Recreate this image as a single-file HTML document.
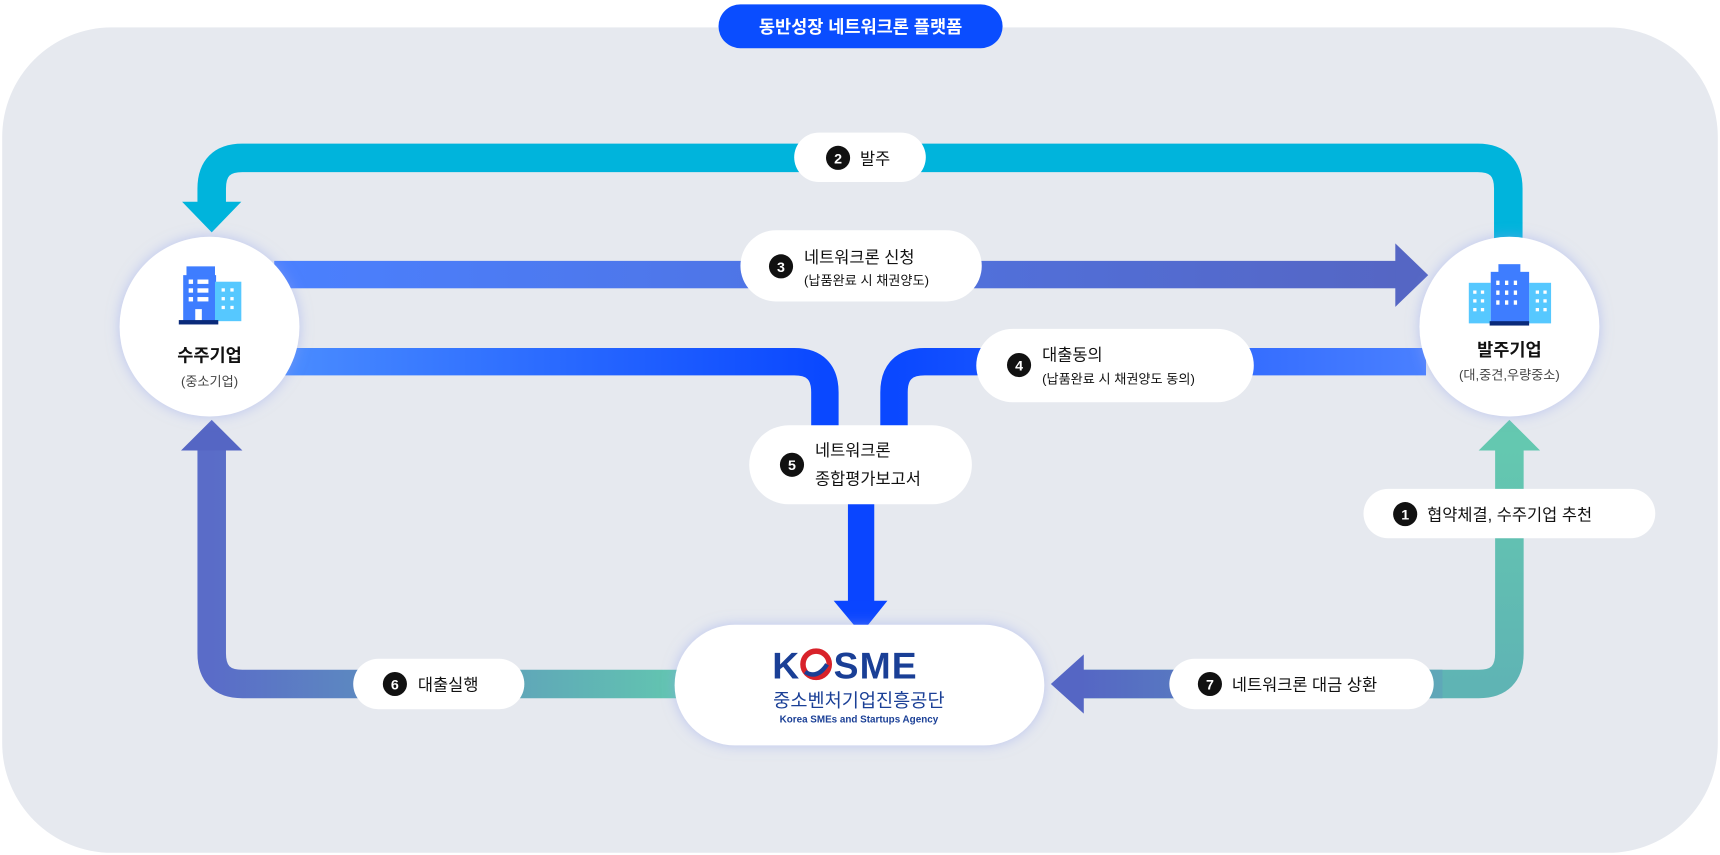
<!DOCTYPE html>
<html><head><meta charset="utf-8"><style>
html,body{margin:0;padding:0;background:#fff;}
svg{display:block;}
text{font-family:"Liberation Sans","Noto Sans CJK KR",sans-serif;}
</style></head><body>
<svg width="1720" height="855" viewBox="0 0 1568 780" preserveAspectRatio="none" xmlns="http://www.w3.org/2000/svg">
<defs>
<linearGradient id="g3" x1="0" x2="1"><stop offset="0" stop-color="#4a80ff"/><stop offset="1" stop-color="#5566c4"/></linearGradient>
<linearGradient id="g4l" x1="0" x2="1"><stop offset="0" stop-color="#4a8cff"/><stop offset="1" stop-color="#0a48ff"/></linearGradient>
<linearGradient id="g4r" x1="0" x2="1"><stop offset="0" stop-color="#0a48ff"/><stop offset="1" stop-color="#4a80ff"/></linearGradient>
<linearGradient id="g6" x1="0" x2="1"><stop offset="0" stop-color="#5a6cc8"/><stop offset="1" stop-color="#62c6b0"/></linearGradient>
<linearGradient id="g1" x1="0" x2="0" y1="0" y2="1"><stop offset="0" stop-color="#64c8b0"/><stop offset="1" stop-color="#5fb4b4"/></linearGradient>
<linearGradient id="g7" x1="0" x2="1"><stop offset="0" stop-color="#5566c4"/><stop offset="1" stop-color="#5fa8b8"/></linearGradient>
<filter id="sh" x="-20%" y="-30%" width="140%" height="160%"><feDropShadow dx="0" dy="0" stdDeviation="6" flood-color="#8fa0ee" flood-opacity="0.5"/></filter>
</defs>
<rect x="2" y="25" width="1564" height="753" rx="100" fill="#e6e9ef"/>
<rect x="655" y="4" width="259" height="40" rx="20" fill="#0a4dff"/>
<text x="784.5" y="30" font-size="16" font-weight="bold" fill="#fff" text-anchor="middle">동반성장 네트워크론 플랫폼</text>

<path d="M1375 218 V172 Q1375 144 1347 144 H221 Q193 144 193 172 V188" fill="none" stroke="#00b4dc" stroke-width="26"/>
<polygon points="166,184 220,184 193,212" fill="#00b4dc"/>
<rect x="250" y="238" width="1025" height="25" fill="url(#g3)"/>
<polygon points="1272,222 1272,280 1302,251" fill="#5566c4"/>
<path d="M260 330 H724 Q752 330 752 358 V390" fill="none" stroke="url(#g4l)" stroke-width="25"/>
<path d="M1300 330 H843 Q815 330 815 358 V390" fill="none" stroke="url(#g4r)" stroke-width="25"/>
<rect x="773" y="455" width="24" height="98" fill="#0a45ff"/>
<polygon points="760,548 809,548 785,578" fill="#0a45ff"/>
<path d="M620 624 H221 Q193 624 193 596 V405" fill="none" stroke="url(#g6)" stroke-width="26"/>
<polygon points="165,411 221,411 193,383" fill="#5566c4"/>
<path d="M1376 408 V596 Q1376 624 1348 624 H985" fill="none" stroke="url(#g1)" stroke-width="26"/>
<rect x="985" y="611" width="330" height="26" fill="url(#g7)"/>
<polygon points="1348,411 1404,411 1376,383" fill="#64c8b0"/>
<polygon points="988,597 988,651 958,624" fill="#5566c4"/>

<circle cx="191" cy="298" r="82" fill="#fff" filter="url(#sh)"/>
<circle cx="1376" cy="298" r="82" fill="#fff" filter="url(#sh)"/>
<rect x="170" y="243" width="26" height="50" fill="#3e7dff"/><rect x="167" y="251" width="30" height="42" fill="#3e7dff"/>
<rect x="196" y="257" width="24" height="36" fill="#56c8ff"/>
<g fill="#fff"><rect x="172" y="255" width="4" height="4"/><rect x="180" y="255" width="10" height="4"/><rect x="172" y="263" width="4" height="4"/><rect x="180" y="263" width="10" height="4"/><rect x="172" y="271" width="4" height="4"/><rect x="180" y="271" width="10" height="4"/><rect x="178" y="282" width="6" height="11"/>
<rect x="202" y="263" width="3" height="3"/><rect x="210" y="263" width="3" height="3"/><rect x="202" y="271" width="3" height="3"/><rect x="210" y="271" width="3" height="3"/><rect x="202" y="279" width="3" height="3"/><rect x="210" y="279" width="3" height="3"/></g>
<rect x="163" y="292" width="36" height="4" fill="#0a2a7a"/>
<text x="191" y="330" font-size="16" font-weight="bold" fill="#111" text-anchor="middle">수주기업</text>
<text x="191" y="352" font-size="12" fill="#444" text-anchor="middle">(중소기업)</text>
<rect x="1339" y="258" width="20" height="37" fill="#56c8ff"/><rect x="1394" y="258" width="20" height="37" fill="#56c8ff"/>
<rect x="1359" y="248" width="35" height="47" fill="#3e7dff"/><rect x="1366" y="241" width="20" height="10" fill="#3e7dff"/>
<g fill="#fff"><rect x="1343" y="265" width="3" height="3"/><rect x="1350" y="265" width="3" height="3"/><rect x="1343" y="273" width="3" height="3"/><rect x="1350" y="273" width="3" height="3"/><rect x="1343" y="281" width="3" height="3"/><rect x="1350" y="281" width="3" height="3"/>
<rect x="1400" y="265" width="3" height="3"/><rect x="1407" y="265" width="3" height="3"/><rect x="1400" y="273" width="3" height="3"/><rect x="1407" y="273" width="3" height="3"/><rect x="1400" y="281" width="3" height="3"/><rect x="1407" y="281" width="3" height="3"/>
<rect x="1364" y="256" width="3" height="4"/><rect x="1372" y="256" width="3" height="4"/><rect x="1380" y="256" width="3" height="4"/><rect x="1364" y="265" width="3" height="4"/><rect x="1372" y="265" width="3" height="4"/><rect x="1380" y="265" width="3" height="4"/><rect x="1364" y="274" width="3" height="4"/><rect x="1372" y="274" width="3" height="4"/><rect x="1380" y="274" width="3" height="4"/></g>
<rect x="1358" y="293" width="36" height="4" fill="#0a2a7a"/>
<text x="1376" y="325" font-size="16" font-weight="bold" fill="#111" text-anchor="middle">발주기업</text>
<text x="1376" y="346" font-size="12" fill="#444" text-anchor="middle">(대,중견,우량중소)</text>

<g font-size="15" fill="#111">
<rect x="724" y="121" width="120" height="45" rx="22.5" fill="#fff"/>
<circle cx="764" cy="144" r="11" fill="#111"/><text x="764" y="149" font-size="13" font-weight="bold" fill="#fff" text-anchor="middle">2</text>
<text x="784" y="150">발주</text>
<rect x="675" y="210" width="220" height="65" rx="32.5" fill="#fff"/>
<circle cx="712" cy="243" r="11" fill="#111"/><text x="712" y="248" font-size="13" font-weight="bold" fill="#fff" text-anchor="middle">3</text>
<text x="733" y="240">네트워크론 신청</text>
<text x="733" y="260" font-size="12">(납품완료 시 채권양도)</text>
<rect x="890" y="300" width="253" height="67" rx="33.5" fill="#fff"/>
<circle cx="929" cy="333" r="11" fill="#111"/><text x="929" y="338" font-size="13" font-weight="bold" fill="#fff" text-anchor="middle">4</text>
<text x="950" y="329">대출동의</text>
<text x="950" y="350" font-size="12">(납품완료 시 채권양도 동의)</text>
<rect x="683" y="388" width="203" height="72" rx="36" fill="#fff"/>
<circle cx="722" cy="424" r="11" fill="#111"/><text x="722" y="429" font-size="13" font-weight="bold" fill="#fff" text-anchor="middle">5</text>
<text x="743" y="416">네트워크론</text>
<text x="743" y="442">종합평가보고서</text>
<rect x="1243" y="446" width="266" height="45" rx="22.5" fill="#fff"/>
<circle cx="1281" cy="469" r="11" fill="#111"/><text x="1281" y="474" font-size="13" font-weight="bold" fill="#fff" text-anchor="middle">1</text>
<text x="1301" y="475">협약체결, 수주기업 추천</text>
<rect x="322" y="601" width="156" height="46" rx="23" fill="#fff"/>
<circle cx="360" cy="624" r="11" fill="#111"/><text x="360" y="629" font-size="13" font-weight="bold" fill="#fff" text-anchor="middle">6</text>
<text x="381" y="630">대출실행</text>
<rect x="1066" y="601" width="241" height="46" rx="23" fill="#fff"/>
<circle cx="1103" cy="624" r="11" fill="#111"/><text x="1103" y="629" font-size="13" font-weight="bold" fill="#fff" text-anchor="middle">7</text>
<text x="1123" y="630">네트워크론 대금 상환</text>
</g>

<rect x="615" y="570" width="337" height="110" rx="55" fill="#fff" filter="url(#sh)"/>
<text x="704" y="619" font-size="34" font-weight="bold" fill="#1a3f96">K</text>
<circle cx="744" cy="606" r="12" fill="none" stroke="#d8222a" stroke-width="5"/>
<path d="M734 613 Q745 620 754 606" fill="none" stroke="#1a3f96" stroke-width="4"/>
<text x="760" y="619" font-size="34" font-weight="bold" fill="#1a3f96" letter-spacing="1">SME</text>
<text x="783" y="645" font-size="17" fill="#1a3f96" text-anchor="middle">중소벤처기업진흥공단</text>
<text x="783" y="659" font-size="9" font-weight="bold" fill="#1a3f96" text-anchor="middle">Korea SMEs and Startups Agency</text>
</svg>
</body></html>
